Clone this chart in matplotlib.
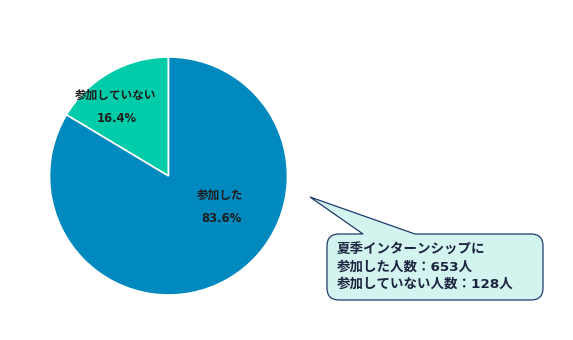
import matplotlib
matplotlib.use('Agg')
import matplotlib.pyplot as plt
from matplotlib.path import Path
from matplotlib.patches import PathPatch

# Latin glyphs from DejaVu (wide, Verdana-like), CJK falls back to Noto
plt.rcParams['font.family'] = ['DejaVu Sans', 'Noto Sans CJK JP']

labels = ['参加していない', '参加した']
shares = [16.4, 83.6]
counts = [653, 128]
colors = ['#00CCAA', '#0089BF']
note = ['夏季インターンシップに', '参加した人数：653人', '参加していない人数：128人']

W, H = 573, 340
fig = plt.figure(figsize=(W / 100, H / 100), dpi=100)
ax = fig.add_axes([0, 0, 1, 1])
ax.set_aspect('equal')

def py(y):
    return H - y

cx, cy, r = 168.5, py(176), 119
ax.pie(shares, colors=colors, startangle=90, counterclock=True,
       center=(cx, cy), radius=r, frame=True,
       wedgeprops=dict(edgecolor='white', linewidth=1.2))
ax.set_xlim(0, W)
ax.set_ylim(0, H)
ax.axis('off')

# slice labels
lab_pos = [(116, 95), (220, 195)]
for (x, y), lab, s in zip(lab_pos, labels, shares):
    ax.text(x, py(y), lab, ha='center', va='center', fontsize=8.4,
            fontweight='bold', color='#1E1E1E')
    ax.text(x + 1, py(y + 23), f'{s:.1f}%', ha='center', va='center',
            fontsize=8.4, fontweight='bold', color='#1E1E1E')

# callout
L, R, T, B, rc = 327, 543, 234, 300, 12
tip = (310, 197)
verts = [
    (L + rc, T), (363, T), tip, (415, T), (R - rc, T),
    (R, T), (R, T + rc),
    (R, B - rc),
    (R, B), (R - rc, B),
    (L + rc, B),
    (L, B), (L, B - rc),
    (L, T + rc),
    (L, T), (L + rc, T),
    (L + rc, T),
]
codes = [Path.MOVETO, Path.LINETO, Path.LINETO, Path.LINETO, Path.LINETO,
         Path.CURVE3, Path.CURVE3,
         Path.LINETO,
         Path.CURVE3, Path.CURVE3,
         Path.LINETO,
         Path.CURVE3, Path.CURVE3,
         Path.LINETO,
         Path.CURVE3, Path.CURVE3,
         Path.CLOSEPOLY]
verts = [(x, py(y)) for x, y in verts]
ax.add_patch(PathPatch(Path(verts, codes), facecolor='#D3F3EF',
                       edgecolor='#1F3A6B', linewidth=0.9))

for i, line in enumerate(note):
    ax.text(337, py(250 + 17 * i), line, ha='left', va='center',
            fontsize=9.7, fontweight='bold', color='#1C2440')

fig.savefig('out.png', dpi=100)
